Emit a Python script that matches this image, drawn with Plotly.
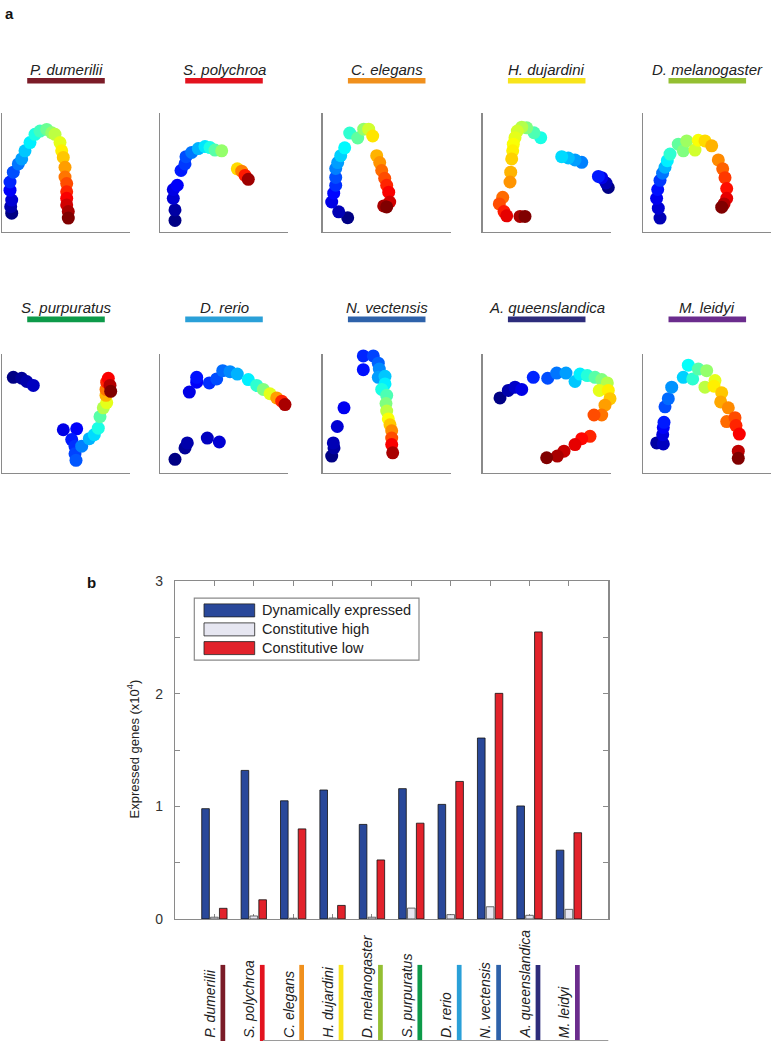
import plotly.graph_objects as go

W, H = 774, 1050
FONT = "Liberation Sans, Arial, Helvetica, sans-serif"

# ---------------- data ----------------
SPECIES = ["P. dumerilii", "S. polychroa", "C. elegans", "H. dujardini", "D. melanogaster",
           "S. purpuratus", "D. rerio", "N. vectensis", "A. queenslandica", "M. leidyi"]
SPECIES_COLORS = ["#7b1c28", "#e3131f", "#f0901d", "#f8e41b", "#94bf32",
                  "#0d9a49", "#2aa0d8", "#2e62aa", "#2d2c7b", "#6b2c8d"]

LEGEND_LABELS = ["Dynamically expressed", "Constitutive high", "Constitutive low"]
DYNAMIC = [0.98, 1.32, 1.05, 1.146, 0.84, 1.158, 1.018, 1.608, 1.004, 0.611]
CONST_HIGH = [0.015, 0.026, 0.006, 0.008, 0.015, 0.096, 0.038, 0.108, 0.032, 0.085]
CONST_LOW = [0.094, 0.17, 0.80, 0.12, 0.524, 0.851, 1.222, 2.005, 2.551, 0.766]
Y_TICKS = [0, 1, 2, 3]
Y_TICK_LABELS = ["0", "1", "2", "3"]

# trajectories (embedding coordinates) and developmental time (0..1) per species
PDUM_X = [9.7, 8.7, 9.7, 8, 8, 11.3, 16.3, 19.7, 23, 28, 33, 38, 44.7, 49.7, 53, 58, 59.7, 61.3, 63, 63, 64.7, 64.7, 64.7, 64.7, 66.3, 66.3]
PDUM_Y = [18.7, 25.3, 32, 42, 50.3, 60.3, 68.7, 73.7, 82, 90.3, 98.7, 102, 103.7, 100.3, 98.7, 90.3, 82, 75.3, 65.3, 55.3, 48.7, 40.3, 33.7, 27, 20.3, 13.7]
PDUM_T = [0.0, 0.04, 0.08, 0.12, 0.16, 0.2, 0.24, 0.28, 0.32, 0.36, 0.4, 0.44, 0.48, 0.52, 0.56, 0.6, 0.64, 0.68, 0.72, 0.76, 0.8, 0.84, 0.88, 0.92, 0.96, 1.0]

SPOL_X = [15, 15, 13.3, 13.3, 17.3, 21, 25, 26, 31.7, 38.3, 45, 50, 55, 61.7, 77.3, 81.7, 85, 88.3]
SPOL_Y = [11.3, 22, 33.7, 42.7, 47, 62, 68.7, 76, 80.3, 84.3, 86.3, 85.3, 82.7, 82, 63.7, 61.3, 57, 53]
SPOL_T = [0.0, 0.03, 0.08, 0.1, 0.12, 0.15, 0.18, 0.2, 0.24, 0.3, 0.35, 0.4, 0.46, 0.52, 0.66, 0.75, 0.85, 0.97]

CELE_X = [25, 16, 9, 11, 13, 13, 13, 15, 18, 22, 27, 35, 41, 46, 50, 54, 57, 59, 62, 64, 66, 67, 61, 64]
CELE_Y = [14, 20, 30, 39, 47, 55, 64, 70, 77, 85, 100, 95, 104, 104, 97, 77, 70, 62, 54, 47, 40, 30, 26, 25]
CELE_T = [0.0, 0.05, 0.1, 0.13, 0.17, 0.2, 0.25, 0.28, 0.33, 0.37, 0.42, 0.47, 0.52, 0.58, 0.65, 0.7, 0.73, 0.77, 0.8, 0.84, 0.88, 0.92, 0.96, 1.0]

HDUJ_X = [125.6, 123.3, 119, 115.7, 99, 92.3, 85.6, 79, 58, 51.3, 44, 39, 34.6, 32.3, 30.6, 30, 29, 28, 27.3, 20, 16.6, 21.3, 24, 37.3, 42.3]
HDUJ_Y = [44.7, 49.3, 54.7, 56, 70.3, 72.7, 74.7, 76, 95.3, 100.3, 105.3, 106, 102, 95.3, 88.7, 82, 73.7, 60.3, 50.3, 34.7, 28, 20.3, 16, 15.3, 15.3]
HDUJ_T = [0.0, 0.05, 0.1, 0.15, 0.25, 0.28, 0.31, 0.34, 0.4, 0.45, 0.5, 0.55, 0.58, 0.6, 0.62, 0.64, 0.67, 0.7, 0.73, 0.77, 0.8, 0.85, 0.9, 0.96, 1.0]

DMEL_X = [16.7, 15, 13.3, 14.4, 16.7, 19.3, 21.7, 24, 26.7, 35, 40, 43.4, 51.7, 55, 61.7, 68.4, 75, 79.4, 81.7, 83.4, 83.4, 80.7, 78.4]
DMEL_Y = [13.7, 23.7, 33.7, 42.7, 52, 59.3, 65.3, 72, 78.7, 88.7, 82, 92, 82.7, 92.7, 92, 87, 72.7, 63.7, 54.7, 43.7, 33.7, 28, 24.7]
DMEL_T = [0.05, 0.08, 0.11, 0.14, 0.18, 0.24, 0.3, 0.36, 0.42, 0.47, 0.5, 0.53, 0.58, 0.62, 0.66, 0.7, 0.74, 0.78, 0.82, 0.86, 0.9, 0.95, 1.0]

SPUR_X = [11.3, 19.7, 24.7, 31.3, 61.3, 74.7, 69.7, 73, 73, 74, 79.7, 87.3, 92.3, 96.3, 98, 101.3, 104.7, 104, 104, 104.7, 106.3, 108, 108.7]
SPUR_Y = [96.7, 95.7, 92.4, 88.4, 43.4, 44.4, 33.4, 26.7, 19, 12.4, 26.7, 34.4, 38.4, 45, 56.7, 65.7, 71, 78.4, 84.4, 91.7, 95.7, 88.4, 82.4]
SPUR_T = [0.0, 0.02, 0.04, 0.06, 0.1, 0.12, 0.15, 0.17, 0.19, 0.21, 0.25, 0.3, 0.34, 0.4, 0.46, 0.55, 0.6, 0.7, 0.76, 0.84, 0.88, 0.95, 1.0]

DRER_X = [15, 25, 27.3, 47.3, 59.3, 29.3, 36.7, 36.7, 49.3, 56.7, 62.7, 70, 77.3, 88.3, 96.7, 103.3, 110, 116.7, 121.7, 125]
DRER_Y = [13.4, 25, 30, 35, 31, 81.7, 91.7, 96.7, 91, 95, 103.4, 102.4, 100, 94.4, 88.4, 84.4, 80, 75.7, 72.4, 69]
DRER_T = [0.0, 0.02, 0.04, 0.06, 0.08, 0.1, 0.12, 0.14, 0.17, 0.2, 0.23, 0.26, 0.3, 0.36, 0.42, 0.5, 0.6, 0.72, 0.84, 0.96]

NVEC_X = [9, 11.3, 10.6, 14.6, 21.3, 40.6, 40.6, 50.6, 55.6, 56.6, 55.6, 62.3, 62.3, 59, 64, 63.3, 64, 65.6, 67.3, 69, 69, 69, 70]
NVEC_Y = [16.7, 25, 30, 46.7, 65.7, 104.4, 118.4, 118.4, 111, 105, 96.7, 97.7, 90, 84.4, 78.4, 70, 62.4, 54.4, 48.4, 42.4, 35, 28.4, 20]
NVEC_T = [0.0, 0.03, 0.05, 0.08, 0.11, 0.14, 0.16, 0.19, 0.22, 0.26, 0.28, 0.32, 0.36, 0.4, 0.45, 0.5, 0.56, 0.62, 0.68, 0.74, 0.8, 0.88, 0.96]

AQUE_X = [17.3, 25.6, 32.3, 39, 50.6, 65, 74, 83.3, 92.3, 97.3, 104.6, 112.3, 119, 124.6, 116.6, 125.6, 127.3, 122.3, 119, 111.3, 107.3, 99, 92.3, 81.3, 74.6, 64]
AQUE_Y = [75.7, 83.4, 86.7, 84.4, 96.7, 95.7, 101, 101, 92.4, 100, 98.4, 96.7, 94.4, 91, 83.4, 83.4, 75, 68.4, 58.4, 58.4, 36.7, 34.4, 28.4, 21.7, 16.7, 15]
AQUE_T = [0.0, 0.04, 0.07, 0.1, 0.16, 0.2, 0.24, 0.28, 0.32, 0.36, 0.41, 0.46, 0.5, 0.55, 0.6, 0.64, 0.68, 0.72, 0.76, 0.8, 0.84, 0.87, 0.9, 0.93, 0.96, 1.0]

MLEI_X = [13.4, 20, 19.4, 20, 20.7, 21.7, 25, 28.4, 40, 45, 49.4, 55, 63.4, 61.7, 71.7, 70.7, 78.4, 77.4, 85, 83.4, 91.7, 92.7, 96, 95, 95]
MLEI_Y = [30, 29, 38.4, 45.7, 51, 66.7, 75, 86.7, 96.7, 109, 95, 105, 103.4, 86.7, 93.4, 87.7, 81, 71.7, 65.7, 51.7, 55.7, 47.7, 39, 21.7, 14.4]
MLEI_T = [0.03, 0.06, 0.09, 0.12, 0.15, 0.2, 0.23, 0.27, 0.33, 0.38, 0.42, 0.46, 0.52, 0.56, 0.6, 0.64, 0.68, 0.71, 0.74, 0.77, 0.8, 0.84, 0.88, 0.94, 1.0]

TRAJ = [(PDUM_X, PDUM_Y, PDUM_T), (SPOL_X, SPOL_Y, SPOL_T), (CELE_X, CELE_Y, CELE_T),
        (HDUJ_X, HDUJ_Y, HDUJ_T), (DMEL_X, DMEL_Y, DMEL_T), (SPUR_X, SPUR_Y, SPUR_T),
        (DRER_X, DRER_Y, DRER_T), (NVEC_X, NVEC_Y, NVEC_T), (AQUE_X, AQUE_Y, AQUE_T),
        (MLEI_X, MLEI_Y, MLEI_T)]

JET = [[0.0, "rgb(0,0,132)"], [0.125, "rgb(0,0,255)"], [0.375, "rgb(0,255,255)"],
       [0.625, "rgb(255,255,0)"], [0.875, "rgb(255,0,0)"], [1.0, "rgb(128,0,0)"]]

BLUE = "#29489a"
WHITE = "#e6e6f1"
RED = "#e2222b"
AX_GRAY = "#8a8a8a"


def fx(p):
    return p / W


def fy(p):
    return 1 - p / H


fig = go.Figure()
layout = dict(width=W, height=H, margin=dict(l=0, r=0, t=0, b=0),
              plot_bgcolor="white", paper_bgcolor="white", showlegend=False,
              font=dict(family=FONT, color="#222"))
shapes, annotations = [], []

# ---------------- panel a ----------------
PANEL_LEFT = [2, 160, 322.7, 482.7, 643.3]
PANEL_W = 128
ROW_TOP = [107, 351.7]
PANEL_H = 120
TITLE_Y = [62.5, 304.5]
BAR_Y = [(71, 76.7), (313.3, 319)]

for i, (xs, ys, ts) in enumerate(TRAJ):
    r, c = divmod(i, 5)
    n = i + 1
    xa = "x" if n == 1 else f"x{n}"
    ya = "y" if n == 1 else f"y{n}"
    L = PANEL_LEFT[c]
    top = ROW_TOP[r]
    fig.add_trace(go.Scatter(x=xs, y=ys, mode="markers", xaxis=xa, yaxis=ya,
                             cliponaxis=False, hoverinfo="skip",
                             marker=dict(size=13, color=ts, colorscale=JET, cmin=0, cmax=1,
                                         line=dict(width=0))))
    axcommon = dict(showgrid=False, zeroline=False, showticklabels=False, ticks="",
                    showline=True, linecolor=AX_GRAY, linewidth=1.3, mirror=False, fixedrange=True)
    layout["xaxis" if n == 1 else f"xaxis{n}"] = dict(domain=[fx(L), fx(L + PANEL_W)], range=[0, PANEL_W],
                                                      anchor=ya, **axcommon)
    layout["yaxis" if n == 1 else f"yaxis{n}"] = dict(domain=[fy(top + PANEL_H), fy(top)], range=[0, PANEL_H],
                                                      anchor=xa, **axcommon)
    dom = "x domain" if n == 1 else f"x{n} domain"
    shapes.append(dict(type="rect", xref=dom, yref="paper", x0=0.5 - 0.303, x1=0.5 + 0.303,
                       y0=fy(BAR_Y[r][1]), y1=fy(BAR_Y[r][0]), fillcolor=SPECIES_COLORS[i],
                       line=dict(width=0)))
    annotations.append(dict(text=SPECIES[i], xref=dom, yref="paper", x=0.5, y=fy(TITLE_Y[r]),
                            xanchor="center", yanchor="middle", showarrow=False,
                            font=dict(size=15, family=FONT, color="#222", style="italic")))

annotations.append(dict(text="<b>a</b>", xref="paper", yref="paper", x=fx(3), y=fy(6),
                        xanchor="left", yanchor="middle", showarrow=False,
                        font=dict(size=15, family=FONT, color="#111")))

# ---------------- panel b ----------------
cats = list(range(1, len(SPECIES) + 1))
for vals, col, lc in [(DYNAMIC, BLUE, "#111"), (CONST_HIGH, WHITE, "#444"), (CONST_LOW, RED, "#111")]:
    fig.add_trace(go.Bar(x=cats, y=vals, xaxis="x11", yaxis="y11",
                         marker=dict(color=col, line=dict(color=lc, width=0.8)), hoverinfo="skip"))

BX0, BX1, BY0, BY1 = 175, 608.3, 582.3, 925
layout["barmode"] = "group"
layout["bargap"] = 0.325
layout["bargroupgap"] = 0.14
layout["xaxis11"] = dict(domain=[fx(BX0), fx(BX1)], range=[0, 11], anchor="y11", tickvals=cats,
                         showticklabels=False, ticks="inside", ticklen=5, tickcolor=AX_GRAY,
                         showline=True, mirror="ticks", linecolor=AX_GRAY, linewidth=1.2,
                         showgrid=False, zeroline=False, layer="below traces", fixedrange=True)
layout["yaxis11"] = dict(domain=[fy(BY1), fy(BY0)], range=[0, 3], anchor="x11", tickvals=Y_TICKS,
                         ticktext=Y_TICK_LABELS, ticks="inside", ticklen=5, tickcolor=AX_GRAY,
                         minor=dict(dtick=0.5, ticks="inside", ticklen=5, tickcolor=AX_GRAY, showgrid=False),
                         showline=True, mirror="ticks", linecolor=AX_GRAY, linewidth=1.2,
                         showgrid=False, zeroline=False, ticklabelstandoff=8,
                         tickfont=dict(size=14, family=FONT, color="#333"), layer="below traces",
                         fixedrange=True)

annotations.append(dict(text="Expressed genes (x10<sup>4</sup>)", xref="paper", yref="paper",
                        x=fx(133), y=fy(753), xanchor="center", yanchor="middle", textangle=-90,
                        showarrow=False, font=dict(size=13, family=FONT, color="#222")))
annotations.append(dict(text="<b>b</b>", xref="paper", yref="paper", x=fx(85), y=fy(583),
                        xanchor="left", yanchor="middle", showarrow=False,
                        font=dict(size=15, family=FONT, color="#111")))

# legend (drawn manually to match the wide swatches)
shapes.append(dict(type="rect", xref="paper", yref="paper", x0=fx(194.3), x1=fx(419),
                   y0=fy(662.3), y1=fy(599.3), line=dict(color=AX_GRAY, width=1.2), fillcolor="white"))
LEG_ROWS = [611.7, 631, 650]
for lab, col, yc in zip(LEGEND_LABELS, [BLUE, WHITE, RED], LEG_ROWS):
    shapes.append(dict(type="rect", xref="paper", yref="paper", x0=fx(204), x1=fx(254.7),
                       y0=fy(yc + 6.6), y1=fy(yc - 6.6), fillcolor=col, line=dict(color="#222", width=0.8)))
    annotations.append(dict(text=lab, xref="paper", yref="paper", x=fx(259.5), y=fy(yc),
                            xanchor="left", yanchor="middle", showarrow=False,
                            font=dict(size=14.5, family=FONT, color="#222")))

# species labels under the bar chart
for i, name in enumerate(SPECIES):
    annotations.append(dict(text=name, xref="x11", yref="paper", x=cats[i] - 0.12, y=fy(1048),
                            xanchor="center", yanchor="bottom", textangle=-90, showarrow=False,
                            font=dict(size=14, family=FONT, color="#222", style="italic")))
    shapes.append(dict(type="rect", xref="x11", yref="paper", x0=cats[i] + 0.155, x1=cats[i] + 0.275,
                       y0=fy(1049), y1=fy(971.7), fillcolor=SPECIES_COLORS[i], line=dict(width=0)))
shapes.append(dict(type="line", xref="paper", yref="paper", x0=fx(263), x1=fx(BX1),
                   y0=fy(1048.5), y1=fy(1048.5), line=dict(color="#9a9a9a", width=1)))

layout["shapes"] = shapes
layout["annotations"] = annotations
fig.update_layout(**layout)
fig.write_html("out.html", config={"displayModeBar": False, "staticPlot": True},
               post_script="document.body.style.margin='0';document.body.style.overflow='hidden';")
